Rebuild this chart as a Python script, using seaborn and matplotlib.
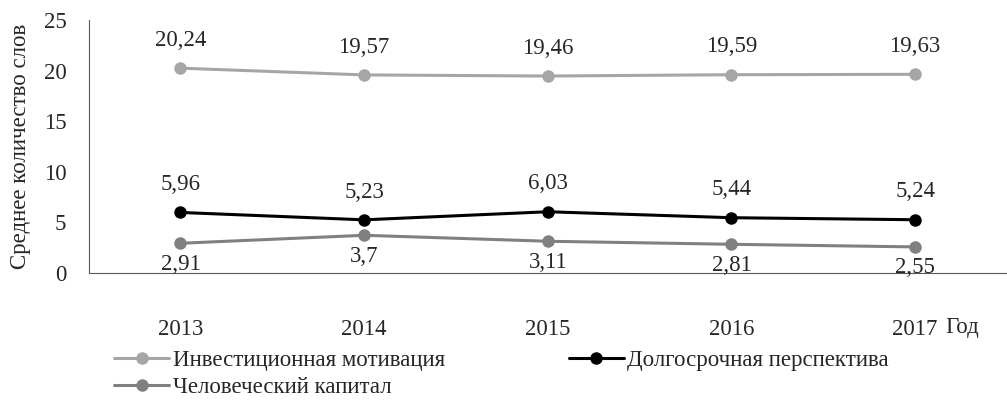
import pandas as pd
import seaborn as sns
import matplotlib.pyplot as plt

# data
years = ["2013", "2014", "2015", "2016", "2017"]
invest = [20.24, 19.57, 19.46, 19.59, 19.63]
longterm = [5.96, 5.23, 6.03, 5.44, 5.24]
human = [2.91, 3.7, 3.11, 2.81, 2.55]
names = ["Инвестиционная мотивация", "Долгосрочная перспектива", "Человеческий капитал"]
colors = ["#A6A6A6", "#000000", "#808080"]

sns.set_style("white")
FONT = "Liberation Serif"
plt.rcParams['font.family'] = [FONT, 'DejaVu Serif']
fs = 16.5

rows = []
for n, vals in zip(names, [invest, longterm, human]):
    for y, v in zip(years, vals):
        rows.append({"year": y, "value": v, "series": n})
df = pd.DataFrame(rows)

fig, ax = plt.subplots(figsize=(10.07, 4.01), dpi=100)
fig.subplots_adjust(left=0.088, right=1.0, top=0.95, bottom=0.32)

sns.lineplot(data=df, x="year", y="value", hue="series", hue_order=names,
             palette=colors, marker="o", markersize=9, markeredgewidth=0,
             linewidth=2.2, ax=ax, sort=False)

# value labels
for vals, off in [(invest, 20), (longterm, 20), (human, -15)]:
    for i, v in enumerate(vals):
        ax.annotate(f"{v:g}".replace(".", ","), (i, v), xytext=(0, off),
                    textcoords="offset points", ha="center", va="center",
                    fontsize=fs, family=FONT)

ax.set_xlim(-0.5, 4.5)
ax.set_ylim(0, 25)
ax.set_yticks([0, 5, 10, 15, 20, 25])
ax.tick_params(axis="x", length=0, pad=33)
ax.tick_params(axis="y", length=0, pad=16)
for lbl in ax.get_xticklabels() + ax.get_yticklabels():
    lbl.set_fontfamily(FONT)
    lbl.set_fontsize(fs)
ax.set_xlabel("")
ax.set_ylabel("Среднее количество слов", fontsize=fs, labelpad=9, family=FONT)
fig.text(945 / 1007, 1 - 327 / 401, "Год", ha="left", va="center", fontsize=fs, family=FONT)

for s in ["top", "right"]:
    ax.spines[s].set_visible(False)
ax.spines["left"].set_color("#595959")
ax.spines["bottom"].set_color("#595959")
ax.spines["left"].set_linewidth(0.8)
ax.spines["bottom"].set_linewidth(0.8)

handles, labels = ax.get_legend_handles_labels()
order = [0, 2, 1]
ax.legend([handles[i] for i in order], [labels[i] for i in order],
          loc="upper left", bbox_to_anchor=(0.018, -0.27), ncol=2,
          frameon=False, handlelength=2.4, handletextpad=0.15, columnspacing=5.4,
          labelspacing=0.25, prop={"family": FONT, "size": fs}, borderaxespad=0)

plt.savefig("out.png", dpi=100)
